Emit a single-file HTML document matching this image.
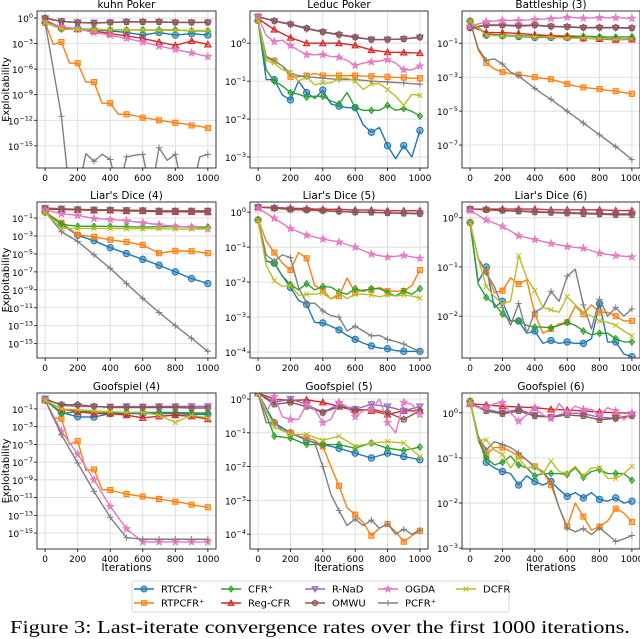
<!DOCTYPE html>
<html><head><meta charset="utf-8"><style>
html,body{margin:0;padding:0;background:#fff;}
svg{display:block;font-family:"DejaVu Sans","Liberation Sans",sans-serif;}
</style></head><body>
<svg id="fig" width="640" height="639" viewBox="0 0 640 639" xmlns="http://www.w3.org/2000/svg">
<g id="panels"></g>
<g id="legend">
<rect x="132" y="581" width="377" height="31" rx="2" fill="#fff" stroke="#ccc" stroke-width="0.8"/>
</g>
<text x="320" y="633" text-anchor="middle" font-family="Liberation Serif, serif" font-size="18" textLength="620" lengthAdjust="spacingAndGlyphs">Figure 3: Last-iterate convergence rates over the first 1000 iterations.</text>
</svg>
<script>
const xs11=[0,100,200,300,400,500,600,700,800,900,1000];
const xs21=[0,50,100,150,200,250,300,350,400,450,500,550,600,650,700,750,800,850,900,950,1000];
const seriesNames=["RTCFR⁺","RTPCFR⁺","CFR⁺","Reg-CFR","R-NaD","OMWU","OGDA","PCFR⁺","DCFR"];
const seriesKeys=["rt","rtp","cfr","reg","rnad","omwu","ogda","pcfr","dcfr"];
const xTickLabels=[0,200,400,600,800,1000];

// Kuhn Poker
const kuhn_rt=[0.3,0.08,0.06,0.04,0.03,0.02,0.01,0.02,0.01,0.015,0.01];
const kuhn_rtp=[0.3,8e-4,1.5e-3,5e-6,5e-6,3e-8,3e-8,1e-10,1e-10,5e-12,5e-12,3.5e-12,2e-12,1.5e-12,1e-12,7e-13,5e-13,4e-13,2.5e-13,2e-13,1.2e-13];
const kuhn_cfr=[0.3,0.05,0.05,0.05,0.04,0.04,0.04,0.04,0.04,0.03,0.03];
const kuhn_reg=[0.5,0.08,0.05,0.03,0.015,0.008,0.004,0.0015,6e-4,0.002,8e-4];
const kuhn_rnad=[0.9,0.4,0.3,0.28,0.3,0.35,0.35,0.35,0.3,0.3,0.3];
const kuhn_omwu=[1,0.4,0.3,0.25,0.3,0.35,0.35,0.35,0.3,0.3,0.3];
const kuhn_ogda=[0.3,0.1,0.05,0.02,0.01,4e-3,1.5e-3,5e-4,2e-4,8e-5,3e-5];
const kuhn_pcfr=[0.3,1e-6,3e-12,0,0,1.2e-16,1.5e-17,1e-16,2.5e-17,0,5e-17,8e-17,1e-16,0,6e-16,2e-17,1e-16,0,0,5e-17,1e-16];
const kuhn_dcfr=[0.3,0.05,0.045,0.045,0.04,0.04,0.04,0.035,0.035,0.035,0.035];
// Leduc Poker
const leduc_rt=[4,0.11,0.11,0.043,0.032,0.1,0.05,0.035,0.058,0.025,0.022,0.02,0.02,0.007,0.0045,0.006,0.002,9e-4,0.002,0.001,0.005];
const leduc_rtp=[4,0.4,0.35,0.25,0.13,0.13,0.14,0.16,0.14,0.14,0.14,0.14,0.14,0.135,0.135,0.13,0.13,0.125,0.125,0.12,0.12];
const leduc_cfr=[4,0.2,0.1,0.075,0.05,0.045,0.038,0.04,0.04,0.03,0.025,0.05,0.02,0.017,0.017,0.017,0.023,0.017,0.019,0.016,0.012];
const leduc_reg=[4.4,2.3,1.4,1.0,1.0,1.0,0.88,0.66,0.58,0.57,0.55];
const leduc_rnad=[5,3.8,3.1,2.4,1.95,1.65,1.4,1.25,1.25,1.3,1.4];
const leduc_omwu=[5,3.9,3.2,2.5,2,1.7,1.45,1.25,1.25,1.3,1.45];
const leduc_ogda=[5,1.6,1.1,1.2,0.87,0.65,0.5,0.5,0.5,0.45,0.43,0.35,0.26,0.3,0.32,0.34,0.37,0.3,0.2,0.2,0.25];
const leduc_pcfr=[4,0.45,0.35,0.25,0.16,0.14,0.13,0.125,0.12,0.115,0.11,0.11,0.11,0.105,0.1,0.097,0.095,0.092,0.09,0.086,0.083];
const leduc_dcfr=[4,0.35,0.3,0.2,0.17,0.1,0.13,0.08,0.09,0.09,0.12,0.12,0.1,0.06,0.085,0.085,0.06,0.04,0.023,0.045,0.042];
// Battleship (3)
const bs_rt=[2,0.3,0.28,0.25,0.22,0.22,0.22,0.2,0.2,0.18,0.18];
const bs_rtp=[2,0.04,0.007,0.003,0.002,0.0016,0.0014,0.0012,0.001,8.5e-4,7.6e-4,5.5e-4,4e-4,3e-4,2.5e-4,2.2e-4,2e-4,1.7e-4,1.5e-4,1.25e-4,1.05e-4];
const bs_cfr=[2,0.35,0.3,0.28,0.27,0.27,0.27,0.26,0.24,0.23,0.24];
const bs_reg=[1,0.43,0.42,0.38,0.32,0.28,0.25,0.2,0.18,0.16,0.17];
const bs_rnad=[0.8,1.1,1.1,1.0,1.1,0.95,0.9,0.8,0.8,0.8,0.75];
const bs_omwu=[0.8,1.2,1.2,1.1,1.2,1.0,0.95,0.85,0.85,0.85,0.8];
const bs_ogda=[1,1.9,2.2,2.2,2.5,2.8,3.4,3.0,3.2,3.2,2.9];
const bs_pcfr=[2,0.05,0.01,0.012,0.006,2e-3,1.2e-3,5e-4,2.2e-4,1e-4,5e-5,2.2e-5,1e-5,4.5e-6,2e-6,9e-7,4e-7,1.8e-7,8e-8,3.5e-8,1.4e-8];
const bs_dcfr=[2,0.3,0.27,0.26,0.24,0.23,0.2,0.2,0.19,0.17,0.18];
// Liar's Dice (4)
const ld4_rt=[0.5,0.02,1.2e-3,3e-4,5e-5,1.1e-5,2.5e-6,5.5e-7,1e-7,1.8e-8,5e-9];
const ld4_rtp=[0.5,0.03,1.3e-3,8e-4,3.7e-4,2.2e-4,1e-4,1.2e-5,2.2e-5,2e-5,1.2e-5];
const ld4_cfr=[0.4,0.02,0.012,0.012,0.012,0.011,0.01,0.011,0.011,0.01,0.01];
const ld4_reg=[1,0.9,0.8,0.7,0.7,0.6,0.6,0.5,0.5,0.5,0.45];
const ld4_rnad=[1.3,1.1,0.95,0.85,0.8,0.75,0.7,0.65,0.65,0.65,0.65];
const ld4_omwu=[1.2,1,0.9,0.8,0.8,0.7,0.7,0.6,0.6,0.6,0.6];
const ld4_ogda=[0.8,0.3,0.2,0.09,0.07,0.05,0.03,0.018,0.012,0.01,0.006];
const ld4_pcfr=[0.5,3e-3,2.5e-4,8e-6,2.5e-7,5e-9,1.1e-10,3e-12,1e-13,4e-15,1.4e-16];
const ld4_dcfr=[0.4,0.007,0.007,0.007,0.007,0.0065,0.0065,0.0065,0.006,0.006,0.006];
// Liar's Dice (5)
const ld5_rt=[0.6,0.04,0.035,0.015,0.007,0.003,0.0023,7e-4,6.8e-4,5.5e-4,4.3e-4,3e-4,2.3e-4,1.8e-4,1.5e-4,1.3e-4,1.25e-4,1.1e-4,1.05e-4,1.05e-4,1.05e-4];
const ld5_rtp=[0.6,0.15,0.07,0.035,0.022,0.07,0.048,0.008,0.006,0.0033,0.004,0.013,0.005,0.006,0.006,0.007,0.0055,0.0055,0.0055,0.008,0.022];
const ld5_cfr=[0.6,0.04,0.035,0.015,0.0085,0.006,0.009,0.006,0.0075,0.0072,0.0052,0.0045,0.0065,0.0055,0.0065,0.0065,0.005,0.004,0.0055,0.0045,0.0065];
const ld5_reg=[1.4,1.35,1.3,1.25,1.2,1.2,1.15,1.15,1.1,1.1,1.1];
const ld5_rnad=[1.4,1.3,1.2,1.15,1.1,1.05,1.0,1.0,0.95,0.95,0.92];
const ld5_omwu=[1.4,1.3,1.2,1.15,1.1,1.05,1.0,0.98,0.95,0.92,0.9];
const ld5_ogda=[1.3,0.67,0.34,0.22,0.17,0.14,0.1,0.063,0.052,0.058,0.048];
const ld5_pcfr=[0.6,0.06,0.04,0.06,0.05,0.007,0.0025,0.0025,0.0015,0.0011,0.001,4e-4,5.5e-4,4e-4,2.9e-4,3e-4,2.3e-4,2e-4,1.7e-4,1.3e-4,1.05e-4];
const ld5_dcfr=[0.6,0.03,0.011,0.0075,0.008,0.0042,0.0045,0.0045,0.0048,0.0033,0.0048,0.0034,0.0045,0.0045,0.0043,0.0038,0.0043,0.004,0.0043,0.004,0.0035];
// Liar's Dice (6)
const ld6_rt=[0.8,0.05,0.1,0.015,0.02,0.008,0.008,0.0045,0.005,0.0028,0.0032,0.0028,0.003,0.0028,0.0028,0.0035,0.018,0.003,0.003,0.0017,0.0015];
const ld6_rtp=[0.8,0.15,0.08,0.03,0.033,0.06,0.045,0.055,0.011,0.0045,0.0055,0.007,0.0075,0.016,0.011,0.017,0.012,0.012,0.01,0.008,0.008];
const ld6_cfr=[0.8,0.045,0.024,0.018,0.011,0.008,0.008,0.0065,0.006,0.006,0.0058,0.0065,0.0075,0.0065,0.005,0.0042,0.0045,0.0045,0.0035,0.003,0.003];
const ld6_reg=[1.5,1.5,1.5,1.5,1.5,1.45,1.45,1.45,1.45,1.4,1.4];
const ld6_rnad=[1.5,1.45,1.4,1.38,1.35,1.3,1.28,1.25,1.22,1.2,1.2];
const ld6_omwu=[1.5,1.45,1.4,1.35,1.3,1.27,1.23,1.2,1.18,1.15,1.15];
const ld6_ogda=[1.4,0.9,0.67,0.43,0.36,0.3,0.26,0.24,0.19,0.17,0.16];
const ld6_pcfr=[0.8,0.15,0.075,0.04,0.015,0.0065,0.018,0.0045,0.012,0.015,0.032,0.02,0.065,0.09,0.017,0.0055,0.022,0.01,0.015,0.01,0.014];
const ld6_dcfr=[0.8,0.15,0.04,0.025,0.018,0.02,0.17,0.06,0.033,0.015,0.0135,0.012,0.025,0.017,0.012,0.01,0.008,0.0075,0.0065,0.005,0.004];
// Goofspiel (4)
const g4_rt=[1,0.04,0.013,0.012,0.03,0.03,0.03,0.03,0.03,0.025,0.025];
const g4_rtp=[1,0.01,0.008,1e-5,2.5e-5,1.2e-8,1.5e-8,8e-11,7e-11,4e-11,2.5e-11,1.8e-11,1.3e-11,9e-12,7e-12,5e-12,3.5e-12,2.5e-12,1.6e-12,1.1e-12,8e-13];
const g4_cfr=[1,0.03,0.05,0.05,0.04,0.04,0.04,0.04,0.04,0.035,0.035];
const g4_reg=[1,0.1,0.05,0.03,0.03,0.02,0.01,0.015,0.02,0.015,0.007];
const g4_rnad=[1.5,0.25,0.2,0.18,0.18,0.2,0.18,0.2,0.2,0.2,0.2];
const g4_omwu=[1.2,0.3,0.3,0.2,0.15,0.15,0.15,0.15,0.15,0.13,0.13];
const g4_ogda=[1,3e-4,8e-7,1e-9,1e-12,3e-15,1e-16,1e-16,1e-16,1e-16,1e-16];
const g4_pcfr=[1,1.2e-4,8e-8,5e-11,6e-14,3e-16,2e-16,2e-16,2e-16,2e-16,2e-16];
const g4_dcfr=[1,0.1,0.08,0.06,0.05,0.04,0.04,0.02,0.003,0.02,0.01];
// Goofspiel (5)
const g5_rt=[1.5,0.2,0.1,0.06,0.045,0.035,0.025,0.018,0.025,0.02,0.016];
const g5_rtp=[1.5,0.2,0.2,0.12,0.1,0.08,0.07,0.06,0.04,0.01,2.7e-3,6e-4,3.8e-4,2.2e-4,9e-5,1.5e-4,2e-4,1.2e-4,6e-5,9e-5,1.25e-4];
const g5_cfr=[1.5,0.08,0.07,0.045,0.045,0.045,0.035,0.05,0.035,0.03,0.038];
const g5_reg=[1.5,1.0,0.9,0.95,0.8,0.6,0.5,0.45,0.35,0.45,0.45];
const g5_rnad=[1.5,0.8,1.0,0.7,0.4,0.7,0.5,0.7,0.6,0.45,0.6];
const g5_omwu=[1.5,0.7,0.8,0.6,0.4,0.6,0.45,0.5,0.4,0.25,0.45];
const g5_ogda=[1.5,0.4,1.2,0.3,0.25,0.25,0.7,0.5,0.2,0.25,0.8,0.6,0.3,0.45,0.5,1.0,0.2,0.1,0.8,0.7,0.35];
const g5_pcfr=[1.5,0.2,0.2,0.12,0.09,0.08,0.06,0.05,0.01,1.5e-3,5e-4,1.8e-4,2.8e-4,1.8e-4,2.6e-4,1.5e-4,2e-4,1e-4,1.4e-4,1e-4,1.3e-4];
const g5_dcfr=[1.5,0.15,0.09,0.09,0.06,0.08,0.04,0.05,0.055,0.05,0.02];
// Goofspiel (6)
const g6_rt=[1.8,0.3,0.08,0.06,0.05,0.045,0.025,0.04,0.03,0.025,0.03,0.02,0.014,0.017,0.013,0.017,0.012,0.011,0.013,0.01,0.011];
const g6_rtp=[1.8,0.3,0.12,0.17,0.17,0.14,0.11,0.09,0.065,0.05,0.025,0.008,0.003,0.01,0.005,0.0025,0.003,0.004,0.0075,0.006,0.0038];
const g6_cfr=[1.8,0.25,0.1,0.07,0.08,0.11,0.07,0.06,0.04,0.045,0.045,0.045,0.043,0.06,0.037,0.05,0.055,0.045,0.045,0.045,0.032];
const g6_reg=[1.6,1.5,1.4,1.35,1.3,1.2,1.15,1.1,1.05,1.0,0.98];
const g6_rnad=[1.6,1.2,1.0,1.2,0.9,0.8,1.0,0.95,0.8,0.75,0.9];
const g6_omwu=[1.6,1.1,0.95,1.1,0.85,0.8,0.9,0.85,0.7,0.75,0.85];
const g6_ogda=[1.6,1.3,1.3,1.6,1.7,1.0,0.65,0.9,1.3,0.9,0.75,1.6,1.0,1.4,1.2,1.2,0.9,1.3,1.1,0.7,1.0];
const g6_pcfr=[1.8,0.3,0.15,0.23,0.2,0.17,0.13,0.09,0.06,0.05,0.03,0.008,0.0028,0.0023,0.0027,0.002,0.0028,0.002,0.0014,0.0016,0.0019];
const g6_dcfr=[1.8,0.25,0.25,0.15,0.12,0.06,0.1,0.06,0.065,0.045,0.085,0.05,0.045,0.065,0.04,0.06,0.06,0.035,0.035,0.045,0.065];

// panel tick exponents (axis config)
const kuhnTicks=[0,-3,-6,-9,-12,-15];
const leducTicks=[0,-1,-2,-3];
const bsTicks=[-1,-3,-5,-7];
const ld4Ticks=[-1,-3,-5,-7,-9,-11,-13,-15];
const ld5Ticks=[0,-1,-2,-3,-4];
const ld6Ticks=[0,-1,-2];
const g4Ticks=[-1,-3,-5,-7,-9,-11,-13,-15];
const g5Ticks=[0,-1,-2,-3,-4];
const g6Ticks=[0,-1,-2,-3];

const colors={rt:"#1f77b4",rtp:"#ff7f0e",cfr:"#2ca02c",reg:"#d62728",rnad:"#9467bd",omwu:"#8c564b",ogda:"#e377c2",pcfr:"#7f7f7f",dcfr:"#bcbd22"};
const markers={rt:"o",rtp:"s",cfr:"D",reg:"^",rnad:"v",omwu:"p",ogda:"*",pcfr:"+",dcfr:"x"};
const colX=[[37,216],[250,428],[462,640]];
const rowY=[[11,168],[202,358],[393,549]];

const panels=[
 {id:"kuhn-poker",title:"kuhn Poker",r:0,c:0,lo:-17.6,hi:0.82,ticks:kuhnTicks,d:{rt:kuhn_rt,rtp:kuhn_rtp,cfr:kuhn_cfr,reg:kuhn_reg,rnad:kuhn_rnad,omwu:kuhn_omwu,ogda:kuhn_ogda,pcfr:kuhn_pcfr,dcfr:kuhn_dcfr}},
 {id:"leduc-poker",title:"Leduc Poker",r:0,c:1,lo:-3.29,hi:0.85,ticks:leducTicks,d:{rt:leduc_rt,rtp:leduc_rtp,cfr:leduc_cfr,reg:leduc_reg,rnad:leduc_rnad,omwu:leduc_omwu,ogda:leduc_ogda,pcfr:leduc_pcfr,dcfr:leduc_dcfr}},
 {id:"battleship-3",title:"Battleship (3)",r:0,c:2,lo:-8.35,hi:0.9,ticks:bsTicks,d:{rt:bs_rt,rtp:bs_rtp,cfr:bs_cfr,reg:bs_reg,rnad:bs_rnad,omwu:bs_omwu,ogda:bs_ogda,pcfr:bs_pcfr,dcfr:bs_dcfr}},
 {id:"liars-dice-4",title:"Liar's Dice (4)",r:1,c:0,lo:-16.6,hi:0.79,ticks:ld4Ticks,d:{rt:ld4_rt,rtp:ld4_rtp,cfr:ld4_cfr,reg:ld4_reg,rnad:ld4_rnad,omwu:ld4_omwu,ogda:ld4_ogda,pcfr:ld4_pcfr,dcfr:ld4_dcfr}},
 {id:"liars-dice-5",title:"Liar's Dice (5)",r:1,c:1,lo:-4.17,hi:0.29,ticks:ld5Ticks,d:{rt:ld5_rt,rtp:ld5_rtp,cfr:ld5_cfr,reg:ld5_reg,rnad:ld5_rnad,omwu:ld5_omwu,ogda:ld5_ogda,pcfr:ld5_pcfr,dcfr:ld5_dcfr}},
 {id:"liars-dice-6",title:"Liar's Dice (6)",r:1,c:2,lo:-2.85,hi:0.32,ticks:ld6Ticks,d:{rt:ld6_rt,rtp:ld6_rtp,cfr:ld6_cfr,reg:ld6_reg,rnad:ld6_rnad,omwu:ld6_omwu,ogda:ld6_ogda,pcfr:ld6_pcfr,dcfr:ld6_dcfr}},
 {id:"goofspiel-4",title:"Goofspiel (4)",r:2,c:0,lo:-16.8,hi:0.8,ticks:g4Ticks,d:{rt:g4_rt,rtp:g4_rtp,cfr:g4_cfr,reg:g4_reg,rnad:g4_rnad,omwu:g4_omwu,ogda:g4_ogda,pcfr:g4_pcfr,dcfr:g4_dcfr}},
 {id:"goofspiel-5",title:"Goofspiel (5)",r:2,c:1,lo:-4.44,hi:0.18,ticks:g5Ticks,d:{rt:g5_rt,rtp:g5_rtp,cfr:g5_cfr,reg:g5_reg,rnad:g5_rnad,omwu:g5_omwu,ogda:g5_ogda,pcfr:g5_pcfr,dcfr:g5_dcfr}},
 {id:"goofspiel-6",title:"Goofspiel (6)",r:2,c:2,lo:-3.02,hi:0.44,ticks:g6Ticks,d:{rt:g6_rt,rtp:g6_rtp,cfr:g6_cfr,reg:g6_reg,rnad:g6_rnad,omwu:g6_omwu,ogda:g6_ogda,pcfr:g6_pcfr,dcfr:g6_dcfr}}
];

const NS="http://www.w3.org/2000/svg";
function mk(tag,attrs,parent){const e=document.createElementNS(NS,tag);for(const k in attrs)e.setAttribute(k,attrs[k]);if(parent)parent.appendChild(e);return e;}

function markerPath(type,x,y,s){
 const r=s;
 switch(type){
  case "o":return `M${x-r},${y}a${r},${r} 0 1,0 ${2*r},0a${r},${r} 0 1,0 ${-2*r},0Z`;
  case "s":return `M${x-r*0.8},${y-r*0.8}h${1.6*r}v${1.6*r}h${-1.6*r}Z`;
  case "D":return `M${x},${y-r}L${x+r*0.8},${y}L${x},${y+r}L${x-r*0.8},${y}Z`;
  case "^":return `M${x},${y-r}L${x+r},${y+r*0.8}L${x-r},${y+r*0.8}Z`;
  case "v":return `M${x},${y+r}L${x+r},${y-r*0.8}L${x-r},${y-r*0.8}Z`;
  case "p":{let p="";for(let i=0;i<5;i++){const a=-Math.PI/2+i*2*Math.PI/5;p+=(i?"L":"M")+(x+r*Math.cos(a)).toFixed(2)+","+(y+r*Math.sin(a)).toFixed(2);}return p+"Z";}
  case "*":{let p="";for(let i=0;i<10;i++){const a=-Math.PI/2+i*Math.PI/5;const rr=i%2?r*0.45:r*1.1;p+=(i?"L":"M")+(x+rr*Math.cos(a)).toFixed(2)+","+(y+rr*Math.sin(a)).toFixed(2);}return p+"Z";}
  case "+":return `M${x-r},${y}H${x+r}M${x},${y-r}V${y+r}`;
  case "x":return `M${x-r*0.8},${y-r*0.8}L${x+r*0.8},${y+r*0.8}M${x-r*0.8},${y+r*0.8}L${x+r*0.8},${y-r*0.8}`;
 }
 return "";
}

function sup(parent,x,y,exp,attrs){
 const t=mk("text",Object.assign({x:x,y:y,"font-size":"9","text-anchor":"end",fill:"#000"},attrs||{}),parent);
 const a=mk("tspan",{},t);a.textContent="10";
 const b=mk("tspan",{dy:"-4","font-size":"6.5"},t);b.textContent=exp===0?"0":"\u2212"+Math.abs(exp);
 return t;
}

const root=document.getElementById("panels");
panels.forEach((P,pi)=>{
 const [x0,x1]=colX[P.c],[y0,y1]=rowY[P.r];
 const g=mk("g",{},root);
 
 
 const sx=v=>x0+(v+50)/1100*(x1-x0);
 const sy=v=>{let l=v>0?Math.log10(v):P.lo-3;if(l<P.lo-3)l=P.lo-3;return y1-(l-P.lo)/(P.hi-P.lo)*(y1-y0);};
 const cid="clip"+pi;
 const cp=mk("clipPath",{id:cid},g);mk("rect",{x:x0,y:y0,width:x1-x0,height:y1-y0},cp);
 const grid=mk("g",{stroke:"#dcdcdc","stroke-width":"0.9"},g);
 
 
 xTickLabels.forEach(v=>mk("line",{x1:sx(v),x2:sx(v),y1:y0,y2:y1},grid));
 P.ticks.forEach(e=>{const yy=sy(Math.pow(10,e));mk("line",{x1:x0,x2:x1,y1:yy,y2:yy},grid);});
 const ti=mk("text",{x:(x0+x1)/2,y:y0-3,"font-size":"10.5","text-anchor":"middle"},g);
 
 
 ti.textContent=P.title;
 xTickLabels.forEach(v=>{
  mk("line",{x1:sx(v),x2:sx(v),y1:y1,y2:y1+3,stroke:"#000","stroke-width":"0.8"},g);
  const t=mk("text",{x:sx(v),y:y1+13,"font-size":"9","text-anchor":"middle"},g);
  
  
  t.textContent=v;
 });
 P.ticks.forEach(e=>{
  const yy=sy(Math.pow(10,e));
  mk("line",{x1:x0-3,x2:x0,y1:yy,y2:yy,stroke:"#000","stroke-width":"0.8"},g);
  const t=sup(g,x0-4,yy+4,e);
  
  
 });
 const sg=mk("g",{"clip-path":`url(#${cid})`},g);
 seriesKeys.forEach(k=>{
  const vals=P.d[k];const xs=vals.length===21?xs21:xs11;
  const s=mk("g",{},sg);
  
  
  let dstr="";vals.forEach((v,i)=>{dstr+=(i?"L":"M")+sx(xs[i]).toFixed(2)+","+sy(v).toFixed(2);});
  mk("path",{d:dstr,fill:"none",stroke:colors[k],"stroke-width":"1.4","stroke-linejoin":"round"},s);
  let md="";vals.forEach((v,i)=>{if(xs[i]%100===0&&v>0)md+=markerPath(markers[k],sx(xs[i]),sy(v),3.2);});
  const open=(markers[k]==="+"||markers[k]==="x");
  mk("path",{d:md,fill:open?"none":colors[k],"fill-opacity":"0.55",stroke:colors[k],"stroke-width":"1"},s);
 });
 const fr=mk("rect",{x:x0,y:y0,width:x1-x0,height:y1-y0,fill:"none",stroke:"#222","stroke-width":"0.9"},g);
 
 
 if(P.c===0){
  const yl=mk("text",{x:0,y:0,"font-size":"10","text-anchor":"middle",transform:`translate(9,${(y0+y1)/2}) rotate(-90)`},g);
  
  
  yl.textContent="Exploitability";
 }
 if(P.r===2){
  const xl=mk("text",{x:(x0+x1)/2,y:571,"font-size":"10.5","text-anchor":"middle"},g);
  
  
  xl.textContent="Iterations";
 }
});

const leg=document.getElementById("legend");
const lx=[134,221,305,378,456],ly=[589,603];
seriesKeys.forEach((k,i)=>{
 const cx=lx[Math.floor(i/2)],cy=ly[i%2];
 const e=mk("g",{},leg);
 
 
 mk("line",{x1:cx,x2:cx+20,y1:cy,y2:cy,stroke:colors[k],"stroke-width":"1.4"},e);
 const open=(markers[k]==="+"||markers[k]==="x");
 mk("path",{d:markerPath(markers[k],cx+10,cy,3),fill:open?"none":colors[k],"fill-opacity":"0.55",stroke:colors[k],"stroke-width":"1"},e);
 const t=mk("text",{x:cx+27,y:cy+3.5,"font-size":"10"},e);
 t.textContent=seriesNames[i];
});
</script>
</body></html>
